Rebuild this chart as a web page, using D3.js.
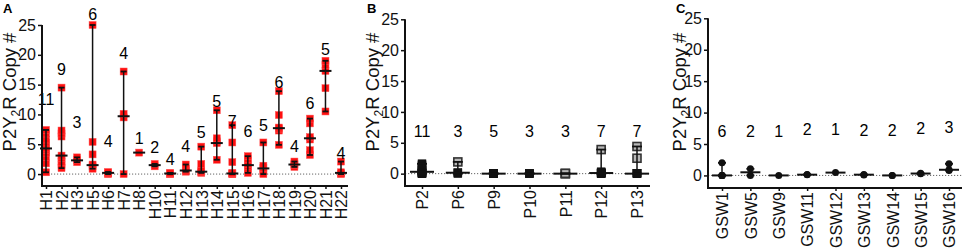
<!DOCTYPE html>
<html lang="en">
<head>
<meta charset="UTF-8">
<script src="https://d3js.org/d3.v7.min.js"></script>
<style>
  body { margin: 0; background: #fff; }
  svg { display: block; font-family: "Liberation Sans", Arial, sans-serif; }
</style>
</head>
<body>
<svg id="chart" width="964" height="248"></svg>
<script>

const yTicks = [0, 5, 10, 15, 20, 25];

// panel A - H samples (red squares)
const hCats = ['H1','H2','H3','H5','H6','H7','H8','H10','H11','H12','H13','H14','H15','H16','H17','H18','H19','H20','H21','H22'];
const hPts = [
  [0.3, 1.8, 2.9, 3.6, 4.0, 4.3, 4.8, 5.3, 5.8, 6.8, 7.4],
  [1.0, 1.5, 2.0, 2.7, 3.1, 6.3, 6.8, 7.3, 14.5],
  [2.0, 2.4, 2.8],
  [0.9, 1.3, 1.6, 3.3, 5.4, 25],
  [0, 0.1, 0.2, 0.35],
  [0, 9.5, 10.1, 17.2],
  [3.6],
  [1.3, 1.7],
  [0, 0.05, 0.1, 0.2],
  [0.4, 0.6, 0.9, 1.6],
  [0.2, 0.4, 0.6, 1.7, 4.6],
  [2.4, 5.2, 5.5, 6.0, 10.7],
  [0, 0, 0.1, 0.2, 2.0, 5.3, 8.2],
  [0.2, 0.8, 1.3, 1.7, 2.5, 3.0],
  [0, 0.5, 1.0, 1.4, 5.3],
  [4.9, 7.3, 7.6, 7.8, 9.9, 13.9],
  [1.2, 1.5, 1.7, 2.1],
  [3.2, 4.0, 5.8, 6.2, 8.5, 9.3],
  [10.5, 14.4, 17.3, 18.3, 19.0],
  [0, 0.1, 0.3, 2.1]
];
const hMed = [4.3, 3.1, 2.3, 1.5, 0.2, 9.7, 3.6, 1.5, 0.1, 0.6, 0.4, 5.2, 0.1, 1.5, 0.95, 7.7, 1.6, 6.0, 17.3, 0.2];
const hN = [11, 9, 3, 6, 4, 4, 1, 2, 4, 4, 5, 5, 7, 6, 5, 6, 4, 6, 5, 4];
const hLabY = [11.6, 16.6, 7.8, 25.8, 4.6, 19.3, 5.0, 3.5, 1.5, 3.7, 6.0, 11.3, 7.9, 6.2, 7.2, 14.5, 3.7, 10.9, 20.0, 2.6];

// panel B - P samples (black squares, some open)
const pCats = ['P2','P6','P9','P10','P11','P12','P13'];
const pPts = [
  [0, 0, 0, 0.1, 0.2, 0.3, 0.5, 0.8, 1.1, 1.4, 1.6],
  [0, 0.2],
  [0, 0, 0, 0, 0.05],
  [0, 0, 0.05],
  [],
  [0, 0, 0, 0.1, 0.2, 0.3],
  [0, 0, 0, 0, 0]
];
const pOpen = [[], [1.9], [], [], [0, 0, 0.05], [3.9], [2.5, 4.4]];
const pMed = [0.3, 0.15, 0, 0, 0, 0.1, 0];
const pN = [11, 3, 5, 3, 3, 7, 7];
const pLabY = [6.0, 6.0, 6.0, 6.0, 6.0, 6.0, 6.0];

// panel C - GSW samples (black dots)
const gCats = ['GSW1','GSW5','GSW9','GSW11','GSW12','GSW13','GSW14','GSW15','GSW16'];
const gPts = [
  [0, 0, 0, 0, 0, 2.0],
  [0, 1.05],
  [0],
  [0.1, 0.15],
  [0.45],
  [0.08, 0.15],
  [0, 0],
  [0.25, 0.35],
  [0.8, 0.9, 1.85]
];
const gMed = [0, 0.5, 0, 0.12, 0.45, 0.12, 0, 0.3, 0.9];
const gN = [6, 2, 1, 2, 1, 2, 2, 2, 3];
const gLabY = [6.15, 6.15, 6.15, 6.4, 6.4, 6.25, 6.25, 6.6, 6.8];

const panels = [
  {letter: 'A', letterX: 3, cats: hCats, pts: hPts, open: null, med: hMed, n: hN, labY: hLabY,
   x0: 42, x1: 348, first: 46, last: 341, top: 25, bottom: 186, titleX: 15.5, marker: 'red', capW: 6, medW: 12},
  {letter: 'B', letterX: 367, cats: pCats, pts: pPts, open: pOpen, med: pMed, n: pN, labY: pLabY,
   x0: 405, x1: 650, first: 422, last: 637, top: 19.3, bottom: 186, titleX: 379, marker: 'black', capW: 10, medW: 24},
  {letter: 'C', letterX: 676, cats: gCats, pts: gPts, open: null, med: gMed, n: gN, labY: gLabY,
   x0: 708, x1: 962, first: 722, last: 949, top: 18.3, bottom: 188, titleX: 686, marker: 'dot', capW: 8, medW: 20}
];

const svg = d3.select('#chart');

panels.forEach(p => {
  const g = svg.append('g');
  const x = d3.scalePoint().domain(p.cats).range([p.first, p.last]);
  const y = d3.scaleLinear().domain([-2, 25]).range([p.bottom, p.top]);

  // zero reference line
  g.append('line')
      .attr('x1', p.x0).attr('x2', p.x1)
      .attr('y1', y(0)).attr('y2', y(0))
      .attr('stroke', '#666').attr('stroke-width', 1)
      .attr('stroke-dasharray', '1.2,1.8');

  // markers
  const rows = [];
  p.cats.forEach((c, i) => p.pts[i].forEach(v => rows.push({c, v, open: false})));
  if (p.open) p.cats.forEach((c, i) => p.open[i].forEach(v => rows.push({c, v, open: true})));

  if (p.marker === 'dot') {
    g.selectAll('.pt').data(rows).join('circle')
        .attr('class', 'pt')
        .attr('cx', d => x(d.c)).attr('cy', d => y(d.v))
        .attr('r', 3.5).attr('fill', '#111');
  } else {
    const s = p.marker === 'red' ? 7 : 8;
    g.selectAll('.pt').data(rows).join('rect')
        .attr('class', 'pt')
        .attr('x', d => x(d.c) - s / 2).attr('y', d => y(d.v) - s / 2)
        .attr('width', s).attr('height', s)
        .attr('fill', d => p.marker === 'red' ? '#ff1010' : (d.open ? '#b8b8b8' : '#111'))
        .attr('stroke', d => p.marker === 'red' ? '#ff5050' : (d.open ? '#333' : '#111'))
        .attr('stroke-width', d => d.open ? 1.6 : 0.5);
  }

  // range whiskers, caps and median line
  const stats = p.cats.map((c, i) => {
    const all = p.pts[i].concat(p.open ? p.open[i] : []);
    return {c, lo: d3.min(all), hi: d3.max(all), med: p.med[i]};
  });
  const wg = g.selectAll('.wh').data(stats).join('g').attr('class', 'wh');
  wg.filter(d => d.hi > d.lo).append('line')
      .attr('x1', d => x(d.c)).attr('x2', d => x(d.c))
      .attr('y1', d => y(d.lo)).attr('y2', d => y(d.hi))
      .attr('stroke', '#111').attr('stroke-width', 1.5);
  ['lo', 'hi'].forEach(k => {
    wg.filter(d => d.hi > d.lo).append('line')
        .attr('x1', d => x(d.c) - p.capW / 2).attr('x2', d => x(d.c) + p.capW / 2)
        .attr('y1', d => y(d[k])).attr('y2', d => y(d[k]))
        .attr('stroke', '#111').attr('stroke-width', 1.8);
  });
  wg.append('line')
      .attr('x1', d => x(d.c) - p.medW / 2).attr('x2', d => x(d.c) + p.medW / 2)
      .attr('y1', d => y(d.med)).attr('y2', d => y(d.med))
      .attr('stroke', '#111').attr('stroke-width', 2);

  // n labels
  g.selectAll('.nlab').data(p.cats).join('text')
      .attr('class', 'nlab')
      .attr('x', d => x(d)).attr('y', (d, i) => y(p.labY[i]))
      .attr('text-anchor', 'middle')
      .style('font-size', '16px')
      .text((d, i) => p.n[i]);

  // y axis
  const ya = g.append('g')
      .attr('transform', `translate(${p.x0},0)`)
      .call(d3.axisLeft(y).tickValues(yTicks).tickSize(4).tickPadding(2))
      .call(a => a.select('.domain').remove());
  ya.selectAll('.tick line').attr('stroke', '#111').attr('stroke-width', 1.5);
  ya.selectAll('.tick text').attr('fill', '#111').style('font-size', '16px')
      .style('font-family', '"Liberation Sans", Arial, sans-serif');
  g.append('line')
      .attr('x1', p.x0).attr('x2', p.x0)
      .attr('y1', y(25)).attr('y2', p.bottom + 1)
      .attr('stroke', '#111').attr('stroke-width', 2);

  // x axis
  const xa = g.append('g')
      .attr('transform', `translate(0,${p.bottom})`)
      .call(d3.axisBottom(x).tickSize(3))
      .call(a => a.select('.domain').remove());
  xa.selectAll('.tick line').attr('stroke', '#111').attr('stroke-width', 1.5);
  xa.selectAll('.tick text')
      .attr('transform', 'rotate(-90)')
      .attr('text-anchor', 'end')
      .attr('x', -4).attr('y', 0).attr('dy', '0.36em')
      .attr('fill', '#111')
      .style('font-size', '16px')
      .style('font-family', '"Liberation Sans", Arial, sans-serif');
  g.append('line')
      .attr('x1', p.x0 - 1).attr('x2', p.x1)
      .attr('y1', p.bottom).attr('y2', p.bottom)
      .attr('stroke', '#111').attr('stroke-width', 2);

  // y title
  const t = g.append('text')
      .attr('transform', `translate(${p.titleX},92) rotate(-90)`)
      .attr('text-anchor', 'middle')
      .style('font-size', '18.5px')
      .attr('fill', '#111');
  t.append('tspan').text('P2Y');
  t.append('tspan').attr('dy', 4).style('font-size', '12px').text('2');
  t.append('tspan').attr('dy', -4).text('R Copy #');

  // panel letter
  g.append('text')
      .attr('x', p.letterX).attr('y', 13)
      .style('font-size', '13px').style('font-weight', 'bold')
      .text(p.letter);
});

</script>
</body>
</html>
